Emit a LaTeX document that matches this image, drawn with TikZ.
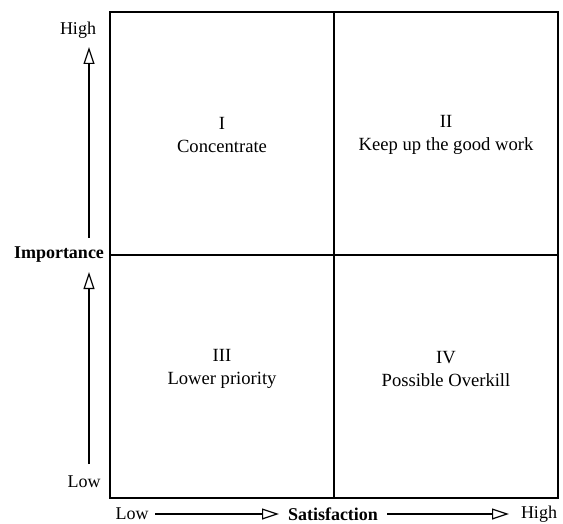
\documentclass[tikz,border=0pt]{standalone}
\usepackage{fontspec}
\setmainfont{Liberation Serif}
\usetikzlibrary{arrows.meta}
\begin{document}
\begin{tikzpicture}[x=1pt,y=-1pt,
  lbl/.style={font=\fontsize{18}{23}\selectfont, align=center, inner sep=0pt},
  qlbl/.style={lbl, font=\fontsize{18.6}{23}\selectfont},
  boldlbl/.style={lbl, font=\fontsize{18}{23}\selectfont\bfseries},
  axisarrow/.style={line width=1.2pt, -{Triangle[open, length=17pt, width=11pt, line width=1.2pt]}},
  frame/.style={line width=1.5pt}]
\useasboundingbox (0,0) rectangle (563,524);
% quadrant box
\draw[frame] (110,12) rectangle (558,498);
\draw[frame] (334,12) -- (334,498);
\draw[frame] (110,255) -- (558,255);
% quadrant labels
\node[qlbl] (q1) at (222,135) {I\\Concentrate};
\node[qlbl] (q2) at (446,135) {II\\Keep up the good work};
\node[qlbl] (q3) at (222,369) {III\\Lower priority};
\node[qlbl] (q4) at (446,369) {IV\\Possible Overkill};
% vertical axis
\node[lbl] (vhigh) at (78,30) {High};
\node[boldlbl] (imp) at (59,255) {Importance};
\node[lbl] (vlow) at (84,482) {Low};
\coordinate (u1) at (89,238);
\coordinate (u2) at (89,47);
\coordinate (l1) at (89,464);
\coordinate (l2) at (89,272);
\draw[axisarrow] (u1) -- (u2);
\draw[axisarrow] (l1) -- (l2);
% horizontal axis
\node[lbl] (hlow) at (132,514) {Low};
\node[boldlbl] (sat) at (333,514) {Satisfaction};
\node[lbl] (hhigh) at (539,514) {High};
\coordinate (a1) at (155,514);
\coordinate (a2) at (279,514);
\coordinate (b1) at (387,514);
\coordinate (b2) at (509,514);
\draw[axisarrow] (a1) -- (a2);
\draw[axisarrow] (b1) -- (b2);
\end{tikzpicture}
\end{document}
